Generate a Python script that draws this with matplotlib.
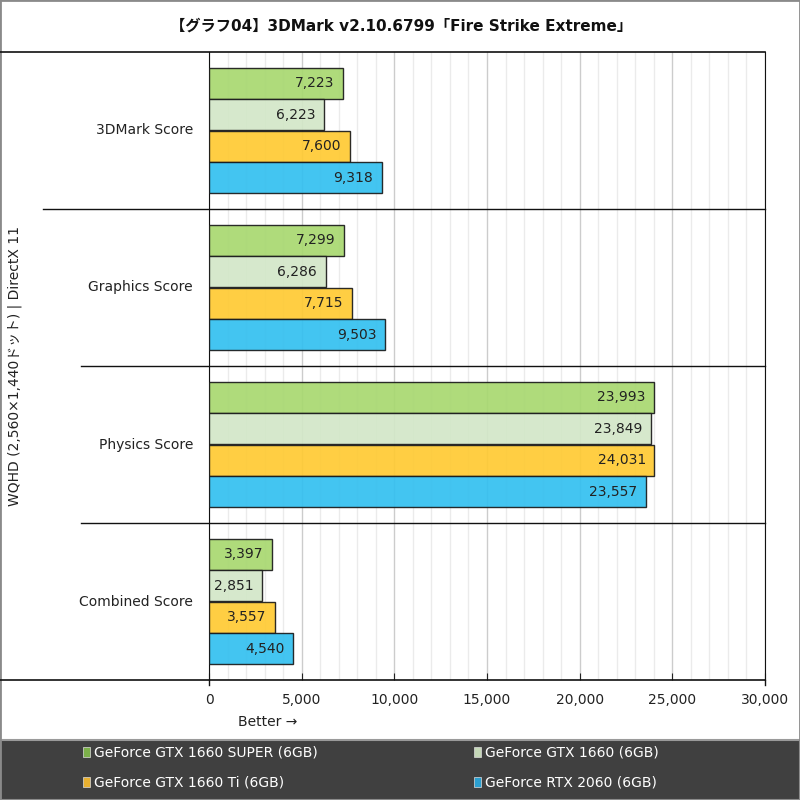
import matplotlib
matplotlib.use("Agg")
import matplotlib.pyplot as plt
from matplotlib.patches import Rectangle
from matplotlib.lines import Line2D
from matplotlib.ticker import FuncFormatter, MultipleLocator

plt.rcParams['font.family'] = ['DejaVu Sans', 'Noto Sans CJK JP']

title = "【グラフ04】3DMark v2.10.6799「Fire Strike Extreme」"
ylabel = "WQHD (2,560×1,440ドット) | DirectX 11"
categories = ["3DMark Score", "Graphics Score", "Physics Score", "Combined Score"]
gpus = ["GeForce GTX 1660 SUPER (6GB)", "GeForce GTX 1660 (6GB)",
        "GeForce GTX 1660 Ti (6GB)", "GeForce RTX 2060 (6GB)"]
gtx1660s = [7223, 7299, 23993, 3397]
gtx1660 = [6223, 6286, 23849, 2851]
gtx1660ti = [7600, 7715, 24031, 3557]
rtx2060 = [9318, 9503, 23557, 4540]
colors = ["#a8d870", "#d3e7c8", "#ffca33", "#33c0f0"]
legend_colors = ["#7cb04a", "#c5d8b8", "#e8b030", "#2a9fd0"]

W, H = 800, 800
fig = plt.figure(figsize=(8, 8), dpi=100)

def fx(px):
    return px / W

def fy(py):
    return 1 - py / H

# plot area in pixels
L, R, T, B = 209, 765, 52, 680
ax = fig.add_axes([fx(L), fy(B), fx(R - L), (B - T) / H])

series = [gtx1660s, gtx1660, gtx1660ti, rtx2060]
bh = 0.198
offsets = [-0.3, -0.1, 0.1, 0.3]
for vals, col, off in zip(series, colors, offsets):
    ys = [i + off for i in range(len(categories))]
    ax.barh(ys, vals, height=bh, color=col, alpha=0.92, edgecolor="#1a1a1a",
            linewidth=1.0, zorder=3)
    for y, v in zip(ys, vals):
        ax.text(v - 450, y, f"{v:,}", ha="right", va="center", fontsize=10,
                color="#222222", zorder=4)

ax.set_xlim(0, 30000)
ax.set_ylim(len(categories) - 0.5, -0.5)
ax.xaxis.set_major_locator(MultipleLocator(5000))
ax.xaxis.set_minor_locator(MultipleLocator(1000))
ax.xaxis.set_major_formatter(FuncFormatter(lambda v, p: f"{int(v):,}"))
ax.grid(axis="x", which="minor", color="#ebebeb", linewidth=1.0, zorder=0)
ax.grid(axis="x", which="major", color="#cccccc", linewidth=1.0, zorder=1)
ax.tick_params(axis="x", which="major", direction="in", length=5, pad=9,
               labelsize=10, colors="#222222")
ax.tick_params(axis="x", which="minor", length=0)
ax.set_yticks([])
for s in ["top", "bottom"]:
    ax.spines[s].set_visible(False)
ax.spines["left"].set_color("#111111")
ax.spines["right"].set_color("#111111")

# category labels and separators
ytr = ax.get_yaxis_transform()
for i, c in enumerate(categories):
    ax.text(-16 / (R - L), i, c, transform=ytr, ha="right", va="center",
            fontsize=10, color="#222222")
for i in range(len(categories) - 1):
    x0 = (43 - L) / (R - L) if i == 0 else (81 - L) / (R - L)
    ax.add_line(Line2D([x0, 1], [i + 0.5, i + 0.5], transform=ytr,
                       color="#111111", linewidth=1.0, clip_on=False, zorder=5))

# title and frame lines
fig.text(fx(401), fy(26), title, ha="center", va="center", fontsize=11,
         fontweight="bold", color="#111111")
fig.add_artist(Line2D([0, fx(R)], [fy(T), fy(T)], color="#111111", linewidth=1.2))
fig.add_artist(Line2D([0, fx(R)], [fy(B), fy(B)], color="#111111", linewidth=1.2))
fig.add_artist(Line2D([fx(L), fx(L)], [fy(B), fy(B + 5)], color="#111111", linewidth=1.0))
fig.add_artist(Line2D([fx(R), fx(R)], [fy(B), fy(B + 5)], color="#111111", linewidth=1.0))

fig.text(fx(15), fy(366), ylabel, rotation=90, ha="center", va="center",
         fontsize=10, color="#222222")
fig.text(fx(268), fy(722), "Better →", ha="center", va="center",
         fontsize=10, color="#222222")

# legend panel
fig.add_artist(Rectangle((0, 0), 1, fy(740), transform=fig.transFigure,
                         facecolor="#404040", edgecolor="#9a9a9a", linewidth=1.5))
leg_pos = [(83, 752), (474, 752), (83, 782), (474, 782)]
for (px, py), name, col in zip(leg_pos, gpus, legend_colors):
    fig.add_artist(Rectangle((fx(px), fy(py + 5)), fx(7), 10 / H,
                             transform=fig.transFigure, facecolor=col,
                             edgecolor="#dddddd", linewidth=0.5))
    fig.text(fx(px + 11), fy(py), name, ha="left", va="center",
             fontsize=10, color="white")

# outer border
fig.add_artist(Rectangle((0, 0), 1, 1, transform=fig.transFigure, fill=False,
                         edgecolor="#8a8a8a", linewidth=2))

fig.savefig("out.png", dpi=100)
